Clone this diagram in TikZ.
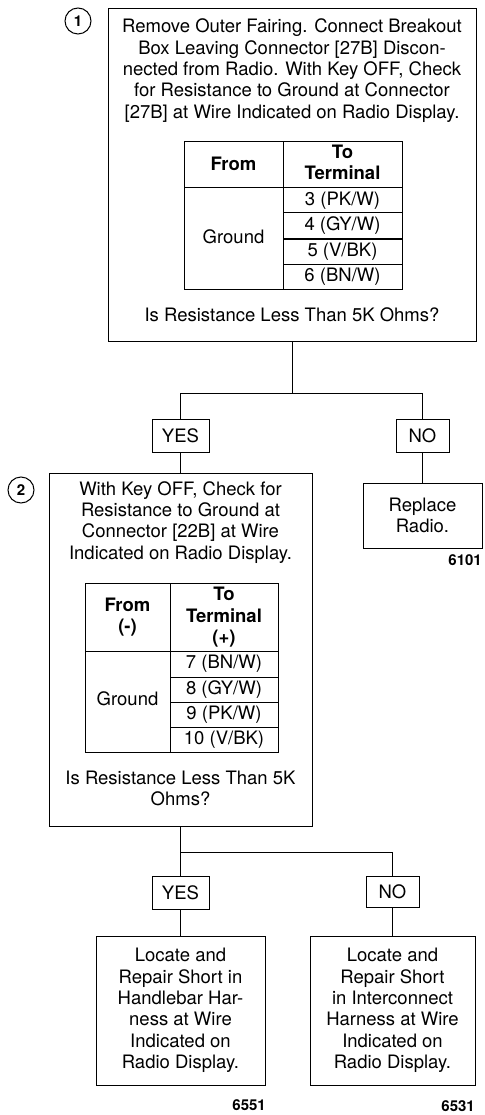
\documentclass[tikz,border=0pt]{standalone}
\usepackage{fontspec}
\setmainfont{TeX Gyre Heros}
\newcommand\txtsize{\fontsize{18.5}{21.4}\selectfont}
\newcommand\numsize{\fontsize{15}{18}\selectfont\bfseries}
\tikzset{
  stepbox/.style={draw, line width=1pt, inner sep=0pt, align=center, font=\txtsize},
  answer/.style={stepbox, minimum height=33pt},
  txt/.style={inner sep=0pt, align=center, font=\txtsize},
  head/.style={txt, font=\txtsize\bfseries},
  code/.style={inner sep=0pt, anchor=east, font=\numsize},
  stepnum/.style={draw, circle, line width=1pt, minimum size=26pt, inner sep=0pt, font=\numsize},
  wire/.style={line width=1pt},
}
\begin{document}
\begin{tikzpicture}[x=1pt,y=-1pt]
\useasboundingbox (0,0) rectangle (484,1115);
% step 1
\node[stepnum] (n1) at (78,21) {1};
\node[stepbox,minimum width=368pt,minimum height=332pt] (b1) at (292,175) {};
\node[txt] (q1) at (292,70.7) {Remove Outer Fairing. Connect Breakout\\Box Leaving Connector [27B] Discon-\\nected from Radio. With Key OFF, Check\\for Resistance to Ground at Connector\\{[27B]} at Wire Indicated on Radio Display.};
\draw[wire] (184,142) rectangle (402,289)
	(283,142) -- (283,289)
	(184,188) -- (402,188)
	(283,213) -- (402,213)
	(283,239) -- (402,239)
	(283,264) -- (402,264);
\node[head] (t1from) at (233.5,164) {From};
\node[head] (t1to) at (342.5,162.5) {To\\Terminal};
\node[txt] (t1gnd) at (233.5,237) {Ground};
\node[txt] (t1a) at (342.5,200.5) {3 (PK/W)};
\node[txt] (t1b) at (342.5,226) {4 (GY/W)};
\node[txt] (t1c) at (342.5,251.5) {5 (V/BK)};
\node[txt] (t1d) at (342.5,276.5) {6 (BN/W)};
\node[txt] (ask1) at (292,315) {Is Resistance Less Than 5K Ohms?};
% answers of step 1
\coordinate (j1) at (293,393);
\node[answer,minimum width=57pt] (yes1) at (180.5,435.5) {YES};
\node[answer,minimum width=53pt] (no1) at (422.5,435.5) {NO};
\draw[wire] (b1.south) -- (b1.south |- j1);
\draw[wire] (yes1.north) -- (yes1.north |- j1) -- (no1.north |- j1) -- (no1.north);
\node[stepbox,minimum width=119pt,minimum height=65pt] (r1) at (422.5,515.5) {Replace\\Radio.};
\node[code] (c1) at (482,560) {6101};
\draw[wire] (no1) -- (r1);
% step 2
\node[stepnum] (n2) at (21,490) {2};
\node[stepbox,minimum width=263pt,minimum height=353pt] (b2) at (180.5,649.5) {};
\draw[wire] (yes1) -- (b2);
\node[txt] (q2) at (180.5,522.3) {With Key OFF, Check for\\Resistance to Ground at\\Connector [22B] at Wire\\Indicated on Radio Display.};
\draw[wire] (85,583) rectangle (278,752)
	(170,583) -- (170,752)
	(85,651) -- (278,651)
	(170,677) -- (278,677)
	(170,702) -- (278,702)
	(170,727) -- (278,727);
\node[head] (t2from) at (127.5,617.4) {From\\(-)};
\node[head] (t2to) at (224,617.4) {To\\Terminal\\(+)};
\node[txt] (t2gnd) at (127.5,699) {Ground};
\node[txt] (t2a) at (224,664) {7 (BN/W)};
\node[txt] (t2b) at (224,689.5) {8 (GY/W)};
\node[txt] (t2c) at (224,714.5) {9 (PK/W)};
\node[txt] (t2d) at (224,739.5) {10 (V/BK)};
\node[txt] (ask2) at (180.5,788.6) {Is Resistance Less Than 5K\\Ohms?};
% answers of step 2
\coordinate (j2) at (180,852);
\node[answer,minimum width=57pt] (yes2) at (180.5,892.5) {YES};
\node[answer,minimum width=53pt,minimum height=31pt] (no2) at (392.5,891.5) {NO};
\draw[wire] (b2.south) -- (b2.south |- j2);
\draw[wire] (yes2.north) -- (yes2.north |- j2) -- (no2.north |- j2) -- (no2.north);
\node[stepbox,minimum width=169pt,minimum height=149pt] (r2) at (180.5,1010.5) {Locate and\\Repair Short in\\Handlebar Har-\\ness at Wire\\Indicated on\\Radio Display.};
\node[stepbox,minimum width=165pt,minimum height=149pt] (r3) at (392.5,1010.5) {Locate and\\Repair Short\\in Interconnect\\Harness at Wire\\Indicated on\\Radio Display.};
\draw[wire] (yes2) -- (r2);
\draw[wire] (no2) -- (r3);
\node[code] (c2) at (266,1105) {6551};
\node[code] (c3) at (475,1106) {6531};
\end{tikzpicture}
\end{document}
